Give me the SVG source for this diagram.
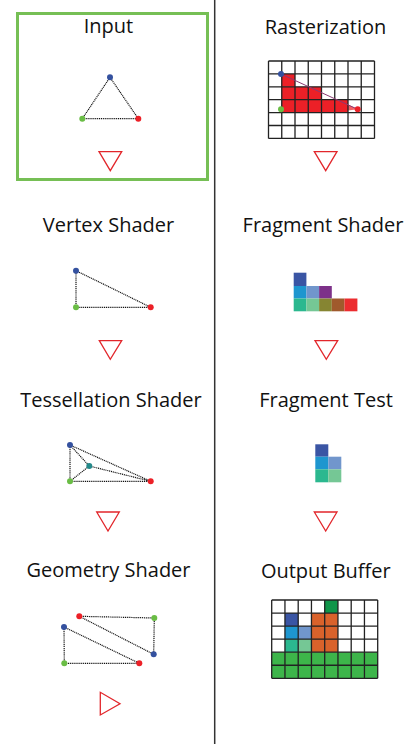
<svg xmlns="http://www.w3.org/2000/svg" width="410" height="744" viewBox="0 0 410 744">
<style>
.t{font-family:"Open Sans","Liberation Sans",sans-serif;font-size:20px;fill:#111;text-anchor:middle}
.e{stroke:#111;stroke-width:1.2;stroke-dasharray:1.1 0.8;fill:none}
.arr{fill:#fff;stroke:#e2262b;stroke-width:1.3}
.grid{stroke:#222;stroke-width:1.3;fill:none}
.b{fill:#34519f}.g{fill:#6abd45}.r{fill:#ec2027}.tl{fill:#24898a}
</style>
<rect width="410" height="744" fill="#fff"/>
<g id="connectors">
<line x1="214.7" y1="0" x2="214.7" y2="744" stroke="#333" stroke-width="1.5"/>
<polygon class="arr" points="99,151.7 121.7,151.7 110.3,170.7"/>
<polygon class="arr" points="99.3,340.7 121.7,340.7 110.3,359.3"/>
<polygon class="arr" points="96.7,512 119.3,512 108,531"/>
<polygon class="arr" points="100.3,692.3 100.3,715 120,703.7"/>
<polygon class="arr" points="314.3,151.7 337,151.7 325.7,170.7"/>
<polygon class="arr" points="315,340.7 337.7,340.7 326.3,359.3"/>
<polygon class="arr" points="314.3,512 337,512 325.7,531"/>
</g>
<g id="input">
<rect x="17.5" y="13.5" width="190" height="166" fill="none" stroke="#76bf55" stroke-width="3"/>
<text class="t" x="108.5" y="33">Input</text>
<polygon class="e" points="110,77.3 82.3,118.7 138.3,118.7"/>
<circle class="b" cx="110" cy="77.3" r="3"/>
<circle class="g" cx="82.3" cy="118.7" r="3"/>
<circle class="r" cx="138.3" cy="118.7" r="3"/>
</g>
<g id="vertex-shader">
<text class="t" x="108.5" y="231.7">Vertex Shader</text>
<polygon class="e" points="76,270.7 76,307.3 150.7,307.3"/>
<circle class="b" cx="76" cy="270.7" r="3"/>
<circle class="g" cx="76" cy="307.3" r="3"/>
<circle class="r" cx="150.7" cy="307.3" r="3"/>
</g>
<g id="tessellation-shader">
<text class="t" x="111" y="406.7">Tessellation Shader</text>
<polygon class="e" points="70,445 70,481.3 150.7,481.3"/>
<path class="e" d="M70,445 L89.3,466 M70,481.3 L89.3,466 M150.7,481.3 L89.3,466"/>
<circle class="b" cx="70" cy="445" r="3"/>
<circle class="tl" cx="89.3" cy="466" r="3"/>
<circle class="g" cx="70" cy="481.3" r="3"/>
<circle class="r" cx="150.7" cy="481.3" r="3"/>
</g>
<g id="geometry-shader">
<text class="t" x="108.5" y="577.3">Geometry Shader</text>
<polygon class="e" points="79.3,616.3 154.3,618 153.7,654.3"/>
<polygon class="e" points="64,627 64.3,663.3 139.3,663.3"/>
<circle class="r" cx="79.3" cy="616.3" r="3"/>
<circle class="g" cx="154.3" cy="618" r="3"/>
<circle class="b" cx="153.7" cy="654.3" r="3"/>
<circle class="b" cx="64" cy="627" r="3"/>
<circle class="g" cx="64.3" cy="663.3" r="3"/>
<circle class="r" cx="139.3" cy="663.3" r="3"/>
</g>
<g id="rasterization">
<text class="t" x="325.5" y="34">Rasterization</text>
<rect x="268.5" y="61" width="106" height="77.4" fill="#fff"/>
<g fill="#ec2027">
<rect x="281.75" y="73.9" width="13.25" height="12.9"/>
<rect x="281.75" y="86.8" width="39.75" height="12.9"/>
<rect x="281.75" y="99.7" width="66.25" height="12.9"/>
<polygon points="348,104.4 357.7,109.3 348,110.6" opacity="0.7"/>
</g>
<path class="grid" d="M268.5,61V138.4M281.75,61V138.4M295,61V138.4M308.25,61V138.4M321.5,61V138.4M334.75,61V138.4M348,61V138.4M361.25,61V138.4M374.5,61V138.4M268.5,61H374.5M268.5,73.9H374.5M268.5,86.8H374.5M268.5,99.7H374.5M268.5,112.6H374.5M268.5,125.5H374.5M268.5,138.4H374.5"/>
<line x1="281" y1="74" x2="357.7" y2="109.3" stroke="#8a3a72" stroke-width="1"/>
<circle class="b" cx="281" cy="74" r="3"/>
<circle class="g" cx="281" cy="109.3" r="3"/>
<circle class="r" cx="357.7" cy="109.3" r="3"/>
</g>
<g id="fragment-shader">
<text class="t" x="323" y="232.3">Fragment Shader</text>
<rect x="293.7" y="272.7" width="12.7" height="13.3" fill="#3a55a4"/>
<rect x="293.7" y="286" width="12.7" height="12.5" fill="#1e96cf"/>
<rect x="306.4" y="286" width="12.7" height="12.5" fill="#7196cc"/>
<rect x="319.1" y="286" width="12.7" height="12.5" fill="#7d3189"/>
<rect x="293.7" y="298.5" width="12.7" height="12.8" fill="#2bb88f"/>
<rect x="306.4" y="298.5" width="12.7" height="12.8" fill="#75c795"/>
<rect x="319.1" y="298.5" width="12.7" height="12.8" fill="#868532"/>
<rect x="331.8" y="298.5" width="12.7" height="12.8" fill="#a05a2c"/>
<rect x="344.5" y="298.5" width="12.9" height="12.8" fill="#ec2c2f"/>
</g>
<g id="fragment-test">
<text class="t" x="326" y="406.7">Fragment Test</text>
<rect x="315.3" y="444.3" width="13" height="12.4" fill="#3a55a4"/>
<rect x="315.3" y="456.7" width="13" height="12.6" fill="#1e96cf"/>
<rect x="328.3" y="456.7" width="13" height="12.6" fill="#7196cc"/>
<rect x="315.3" y="469.3" width="13" height="13" fill="#2bb88f"/>
<rect x="328.3" y="469.3" width="13" height="13" fill="#75c795"/>
</g>
<g id="output-buffer">
<text class="t" x="325.8" y="578.3">Output Buffer</text>
<rect x="271.7" y="600" width="106" height="78.3" fill="#fff"/>
<rect x="271.7" y="652.2" width="106" height="26.1" fill="#3db54a"/>
<rect x="324.7" y="600" width="13.25" height="13.05" fill="#0f9549"/>
<rect x="311.45" y="613.05" width="26.5" height="39.15" fill="#d9622b"/>
<rect x="284.95" y="613.05" width="13.25" height="13.05" fill="#3a55a4"/>
<rect x="284.95" y="626.1" width="13.25" height="13.05" fill="#1e96cf"/>
<rect x="298.2" y="626.1" width="13.25" height="13.05" fill="#7196cc"/>
<rect x="284.95" y="639.15" width="13.25" height="13.05" fill="#2bb88f"/>
<rect x="298.2" y="639.15" width="13.25" height="13.05" fill="#75c795"/>
<path class="grid" d="M271.7,600V678.3M284.95,600V678.3M298.2,600V678.3M311.45,600V678.3M324.7,600V678.3M337.95,600V678.3M351.2,600V678.3M364.45,600V678.3M377.7,600V678.3M271.7,600H377.7M271.7,613.05H377.7M271.7,626.1H377.7M271.7,639.15H377.7M271.7,652.2H377.7M271.7,665.25H377.7M271.7,678.3H377.7"/>
</g>
</svg>
